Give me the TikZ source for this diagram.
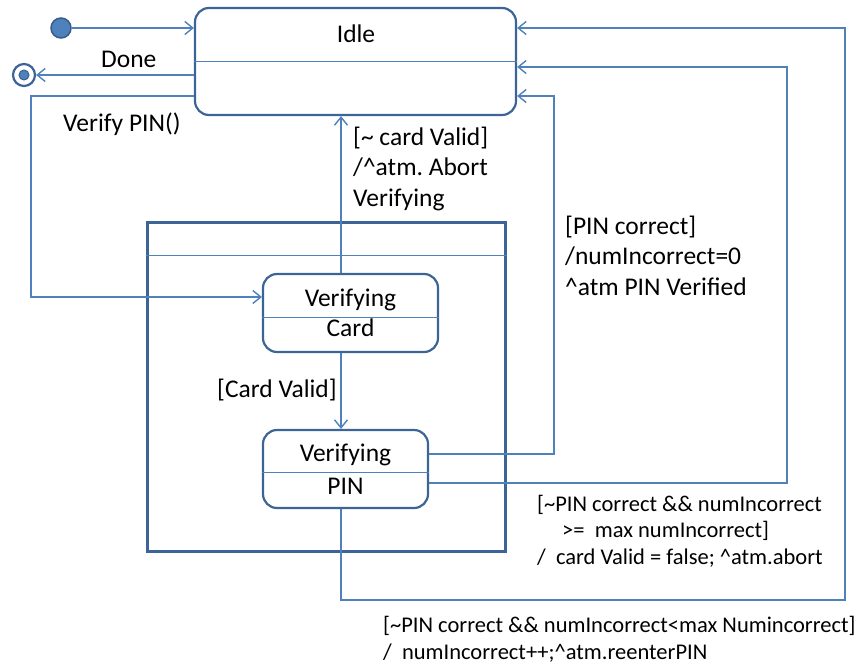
\documentclass[tikz,border=0pt]{standalone}
\usepackage{fontspec}
\setmainfont{Carlito}
\usepackage{xcolor}
\usetikzlibrary{positioning,arrows.meta}
\definecolor{umlframe}{HTML}{3C6497}
\definecolor{umlline}{HTML}{4F81BD}
\definecolor{umldark}{HTML}{385D8A}
\frenchspacing

\begin{document}
\begin{tikzpicture}[x=1pt, y=-1pt,
    every node/.style={font=\fontsize{25.5}{30.5}\selectfont, align=center},
    stbox/.style={rectangle, draw=umlframe, line width=2.2pt, rounded corners=14pt,
                  inner sep=0pt},
    superbox/.style={rectangle, draw=umlframe, line width=3pt, inner sep=0pt},
    divider/.style={draw=umlline, line width=1pt},
    flow/.style={-{Straight Barb[length=8pt, width=13pt]}, umlline, line width=1.4pt},
    lbl/.style={anchor=base west, align=left, inner sep=0pt},
    smalllbl/.style={lbl, font=\fontsize{22.5}{26.5}\selectfont},
  ]
    \useasboundingbox (0,0) rectangle (858,666);

    \node[stbox, minimum width=321pt, minimum height=107pt] (idle) at (355.5,61.5) {};
    \node[anchor=base] (idletxt) at (356,43) {Idle};
    \draw[divider] (idle.west) -- (idle.east);

    \node[circle, fill=umlline, draw=umldark, line width=1.5pt,
          minimum size=20pt, inner sep=0pt]                    (init) at (61,28) {};
    \node[circle, draw=umlframe, line width=2.2pt,
          minimum size=22pt, inner sep=0pt]                    (fin)  at (24,75) {};
    \fill[umlline, draw=umldark, line width=1pt] (fin.center) circle (5pt);

    \node[superbox, minimum width=358pt, minimum height=329pt] (sup) at (326,386.5) {};
    \draw[divider] ([yshift=-35]sup.north west) -- ([yshift=-35]sup.north east);

    \node[stbox, minimum width=175pt, minimum height=78pt] (card) at (350.5,313)
      {Verifying\\Card};
    \draw[divider] ([yshift=-4]card.west) -- ([yshift=-4]card.east);
    \node[stbox, minimum width=165pt, minimum height=78pt] (pin) at (345.5,469)
      {Verifying\\[2pt]PIN};
    \draw[divider] ([yshift=-3]pin.west) -- ([yshift=-3]pin.east);

    \coordinate (vbend) at (31,200);
    \coordinate (okbend) at (554,96);
    \coordinate (abbend) at (787,67);
    \coordinate (rebend) at (845,600);

    \draw[flow] (init) -- (idle.west |- init);
    \draw[flow] (idle.west |- fin) -- (fin);
    \draw[flow] ([yshift=-34.5]idle.west) -| (vbend) |- ([yshift=16]card.west);
    \draw[flow] ([xshift=-9.5]card.north) -- ([xshift=-9.5]card.north |- idle.south);
    \draw[flow] ([xshift=-9.5]card.south) -- ([xshift=-9.5]card.south |- pin.north);
    \draw[flow] ([yshift=15]pin.east) -| (okbend) -- (idle.east |- okbend);
    \draw[flow] ([yshift=-14]pin.east) -| (abbend) -- (idle.east |- abbend);
    \draw[flow] ([xshift=-4.5]pin.south) |- (rebend) |- (idle.east |- init);

    \node[lbl] (done)   at (101,68)  {Done};
    \node[lbl] (vpin)   at (63,131)  {Verify PIN()};
    \node[lbl] (cfail)  at (353,206)
      {[\textasciitilde{} card Valid]\\/\textasciicircum{}atm. Abort\\Verifying};
    \node[lbl] (cvalid) at (217,397) {[Card Valid]};
    \node[lbl] (pinok)  at (565,295)
      {[PIN correct]\\/numIncorrect=0\\\textasciicircum{}atm PIN Verified};
    \node[smalllbl] (pinab) at (537,564)
      {[\textasciitilde{}PIN correct \&\& numIncorrect\\
       \hspace*{25pt}>=\ \ max numIncorrect]\\
       /\ \ card Valid = false; \textasciicircum{}atm.abort};
    \node[smalllbl] (pinre) at (383,659)
      {[\textasciitilde{}PIN correct \&\& numIncorrect<max Numincorrect]\\
       /\ \ numIncorrect++;\textasciicircum{}atm.reenterPIN};
  \end{tikzpicture}
\end{document}
